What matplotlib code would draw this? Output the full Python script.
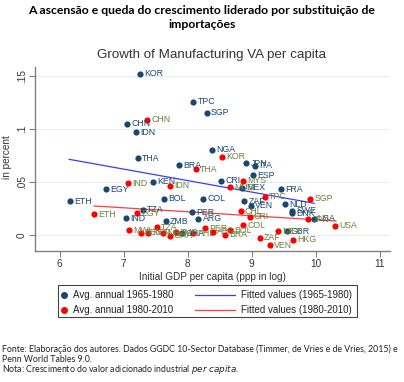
import numpy as np
import matplotlib
matplotlib.use("Agg")
import matplotlib.pyplot as plt
from matplotlib.lines import Line2D
from matplotlib.patches import Rectangle

# Avg. annual growth 1965-1980 (navy)
c1 = ["KOR", "TPC", "SGP", "CHN", "IDN", "THA", "BRA", "NGA", "JPN", "ITA", "ESP",
      "CRI", "MEX", "FRA", "KEN", "EGY", "ETH", "BOL", "COL", "ZAF", "VEN", "NLD",
      "SWE", "DNK", "PER", "ARG", "IND", "TZA", "ZMB", "USA", "GBR", "GHA"]
x1 = [7.26, 8.09, 8.30, 7.06, 7.19, 7.22, 7.87, 8.39, 8.92, 9.05, 9.03,
      8.53, 8.85, 9.46, 7.46, 6.73, 6.16, 7.64, 8.24, 8.89, 8.99, 9.52,
      9.64, 9.64, 8.07, 8.17, 7.04, 7.30, 7.66, 9.97, 9.55, 7.91]
y1 = [.152, .1255, .1154, .105, .097, .0726, .066, .0805, .0676, .0654, .0566,
      .0512, .0446, .043, .0503, .0431, .0318, .034, .0343, .0318, .0274, .0292,
      .023, .0205, .0214, .0151, .016, .0239, .0132, .0151, .0035, .0016]

# Avg. annual growth 1980-2010 (red)
c2 = ["CHN", "KOR", "THA", "IND", "IDN", "MYS", "MUS", "TPC", "SGP", "CHL", "CRI",
      "COL", "USA", "JPN", "ZAF", "VEN", "HKG", "MEX", "ETH", "EGY", "MWI", "SEN",
      "KEN", "TZA", "NGA", "GHA", "ZMB", "PHL", "PER", "ARG", "BRA", "BOL"]
x2 = [7.37, 8.54, 8.13, 7.07, 7.73, 8.87, 8.66, 9.21, 9.92, 8.83, 8.97,
      8.87, 10.31, 9.89, 9.13, 9.29, 9.65, 9.42, 6.54, 7.21, 7.08, 7.27,
      7.39, 7.52, 7.62, 7.72, 7.82, 8.09, 8.27, 8.40, 8.59, 8.66]
y2 = [.1085, .0736, .062, .049, .0465, .0512, .045, .0362, .034, .0226, .017,
      .0094, .0085, .0148, -.0028, -.0097, -.0047, .0035, .0198, .0205, .0044, .0019,
      .0019, .0075, .0016, -.0009, .0025, .0016, .0063, .0031, .0, .0047]

# fitted lines (end points)
fit1_x = [6.15, 9.98]
fit1_y = [0.0714, 0.0299]
fit2_x = [6.54, 10.32]
fit2_y = [0.0274, 0.0132]

navy = "#1a476f"
red = "#ff0000"
olive = "#6f7d3a"

plt.rcParams["font.family"] = ["Liberation Sans", "DejaVu Sans"]

fig = plt.figure(figsize=(4.04, 3.82), dpi=100)
ax = fig.add_axes([35/404, 1-251/382, (390-35)/404, (251-67)/382])

ax.set_xlim(5.617, 11.164)
ax.set_ylim(-0.0151, 0.1585)

for v in [0, .05, .1, .15]:
    ax.axhline(v, color="#e6eef0", lw=0.8, zorder=0)

ax.plot(fit1_x, fit1_y, color="#3b3bff", lw=0.9, zorder=2)
ax.plot(fit2_x, fit2_y, color="#ff3b3b", lw=0.9, zorder=2)

ax.scatter(x1, y1, s=20, color=navy, zorder=3, linewidths=0)
ax.scatter(x2, y2, s=20, color=red, zorder=3, linewidths=0)
for n, a, b in zip(c1, x1, y1):
    ax.annotate(n, (a, b), xytext=(3, 0), textcoords="offset points",
                va="center", ha="left", fontsize=6.3, color=navy, zorder=4)
for n, a, b in zip(c2, x2, y2):
    ax.annotate(n, (a, b), xytext=(3, 0), textcoords="offset points",
                va="center", ha="left", fontsize=6.3, color=olive, zorder=4)

ax.set_xticks([6, 7, 8, 9, 10, 11])
ax.set_yticks([0, .05, .1, .15])
ax.set_yticklabels(["0", ".05", ".1", ".15"], rotation=90, va="center")
for s in ["top", "right"]:
    ax.spines[s].set_visible(False)
for s in ["left", "bottom"]:
    ax.spines[s].set_color("#808080")
    ax.spines[s].set_linewidth(1.0)
ax.tick_params(colors="#808080", labelcolor="#333333", labelsize=7.2, length=4, width=0.8)
ax.tick_params(axis="y", pad=2)
ax.tick_params(axis="x", pad=2)
ax.set_ylabel("in percent", fontsize=7.2, color="#333333")
ax.yaxis.set_label_coords(-0.065, 0.51)
ax.set_xlabel("Initial GDP per capita (ppp in log)", fontsize=7.2, color="#333333", labelpad=2)

fig.text(0.523, 1-55/382, "Growth of Manufacturing VA per capita", ha="center", va="center",
         fontsize=9.6, color="#333333")

# legend
fig.add_artist(Rectangle((58/404, 1-317/382), (357-58)/404, 32/382, transform=fig.transFigure,
                         fill=False, edgecolor="#444444", lw=0.8))
for yy, col, txt in [(295, navy, "Avg. annual 1965-1980"), (310, red, "Avg. annual 1980-2010")]:
    fig.add_artist(Line2D([64/404], [1-yy/382], marker="o", ms=4, color=col, lw=0,
                          transform=fig.transFigure))
    fig.text(73/404, 1-yy/382, txt, ha="left", va="center", fontsize=7, color="#222222")
for yy, col, txt in [(295, "#3b3bff", "Fitted values (1965-1980)"), (310, "#ff3b3b", "Fitted values (1980-2010)")]:
    fig.add_artist(Line2D([195/404, 235/404], [1-yy/382]*2, color=col, lw=0.9,
                          transform=fig.transFigure))
    fig.text(241/404, 1-yy/382, txt, ha="left", va="center", fontsize=7, color="#222222")

# header and notes
hfont = ["Lato", "DejaVu Sans"]
fig.text(0.5, 1-11/382, "A ascensão e queda do crescimento liderado por substituição de",
         ha="center", va="center", fontsize=8.8, fontweight="bold", family=hfont)
fig.text(0.5, 1-25/382, "importações", ha="center", va="center", fontsize=8.8,
         fontweight="bold", family=hfont)
fig.text(2/404, 1-349/382, "Fonte: Elaboração dos autores. Dados GGDC 10-Sector Database (Timmer, de Vries e de Vries, 2015) e",
         ha="left", va="center", fontsize=6.3, family=hfont, color="#222222")
fig.text(2/404, 1-359/382, "Penn World Tables 9.0.", ha="left", va="center", fontsize=6.3,
         family=hfont, color="#222222")
fig.text(2/404, 1-369/382, "Nota: Crescimento do valor adicionado industrial $\\it{per\\ capita}$.",
         ha="left", va="center", fontsize=6.3, family=hfont, color="#222222")

fig.savefig("out.png", dpi=100)
